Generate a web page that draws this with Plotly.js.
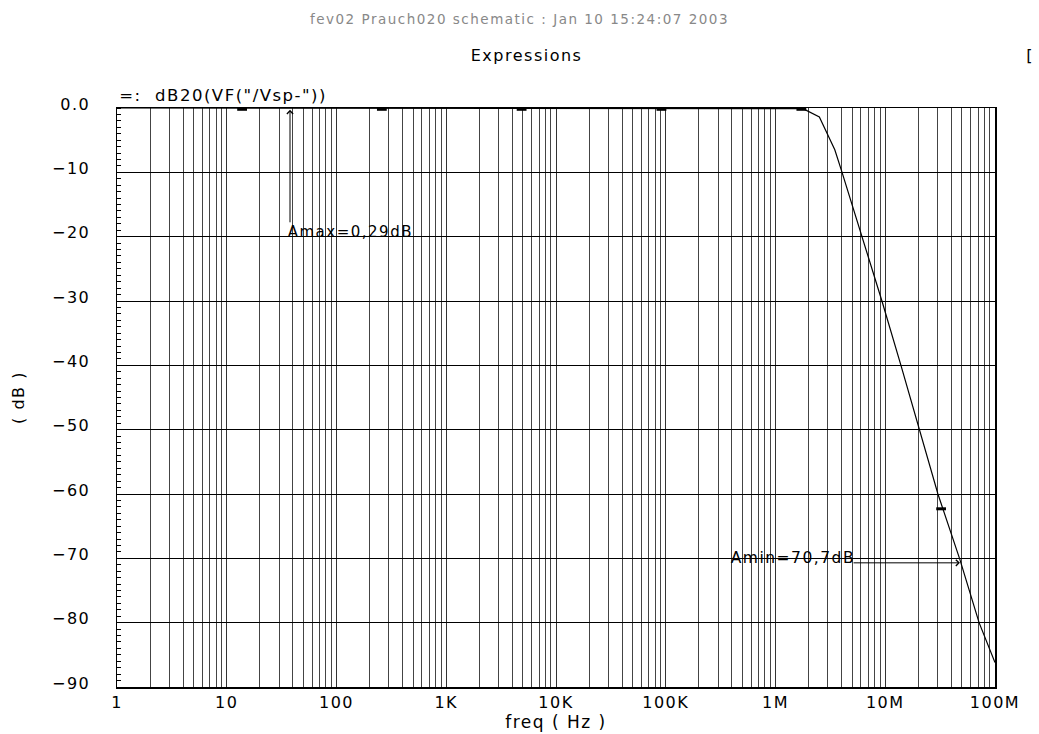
<!DOCTYPE html>
<html>
<head>
<meta charset="utf-8">
<script src="https://cdn.plot.ly/plotly-3.0.1.min.js"></script>
<style>
html,body{margin:0;padding:0;background:#fff;}
#chart{width:1039px;height:734px;}
#chart svg text{letter-spacing:1.5px;}
</style>
</head>
<body>
<div id="chart"></div>
<script>
// Frequency response (Hz, dB)
const freq = [1, 10, 100, 1e3, 1e4, 1e5, 1e6, 1.78e6, 2.51e6, 3.47e6, 4.04e6, 6.14e6, 9.33e6, 1.39e7, 2.04e7, 3.02e7, 4.79e7, 7.16e7, 1e8];
const dB   = [0, 0, 0, 0, 0, 0, -0.02, -0.1, -1.4, -6.5, -10, -20, -30, -40, -50, -60, -70.2, -80, -86.2];
// Marker points drawn along the trace
const markFreq = [13.8, 259, 4.86e3, 9.14e4, 1.72e6, 3.23e7];
const markDB   = [-0.2, -0.2, -0.2, -0.2, -0.2, -62.3];
// Axis ticks
const xTickVals = [1, 10, 100, 1e3, 1e4, 1e5, 1e6, 1e7, 1e8];
const xTickText = ["1", "10", "100", "1K", "10K", "100K", "1M", "10M", "100M"];
const yTickVals = [0, -10, -20, -30, -40, -50, -60, -70, -80, -90];
const yTickText = ["0.0", "\u221210", "\u221220", "\u221230", "\u221240", "\u221250", "\u221260", "\u221270", "\u221280", "\u221290"];
// Annotation values
const amaxFreq = 37.7, amaxDB = -0.29, amaxTailDB = -18;
const aminFreqTail = 4.98e6, aminFreqHead = 4.79e7, aminDB = -70.7;

const minorX = [];
for (let d = 0; d < 8; d++) for (let k = 2; k <= 9; k++) minorX.push(k * Math.pow(10, d));

const FONT = "DejaVu Sans, sans-serif";
const traces = [
  {x: freq, y: dB, type: "scatter", mode: "lines", line: {color: "#000", width: 1.2}, hoverinfo: "skip", showlegend: false},
  {x: markFreq, y: markDB, type: "scatter", mode: "markers",
   marker: {symbol: "line-ew", size: 7, color: "#000", line: {color: "#000", width: 3}}, hoverinfo: "skip", showlegend: false}
];
const lg = Math.log10;
const layout = {
  width: 1039, height: 734,
  margin: {l: 117, r: 44, t: 108, b: 47},
  paper_bgcolor: "#fff", plot_bgcolor: "#fff",
  font: {family: FONT, size: 15, color: "#000"},
  title: {text: "fev02 Prauch020 schematic : Jan 10 15:24:07 2003", x: 0.5, xref: "container", xanchor: "center",
          y: 0.974, yref: "container", yanchor: "middle", font: {family: FONT, size: 13.5, color: "#888"}},
  xaxis: {type: "log", range: [0, 8], tickmode: "array", tickvals: xTickVals, ticktext: xTickText,
          showgrid: true, gridcolor: "#333", gridwidth: 1, zeroline: false,
          showline: true, linecolor: "#000", linewidth: 1.5, mirror: true, ticks: "",
          tickfont: {family: FONT, size: 16, color: "#000"},
          minor: {tickmode: "array", tickvals: minorX, showgrid: true, gridcolor: "#444", gridwidth: 1, ticks: ""},
          title: {text: "freq ( Hz )", standoff: 2, font: {family: FONT, size: 17, color: "#000"}}},
  yaxis: {range: [-90, 0], tickmode: "array", tickvals: yTickVals, ticktext: yTickText,
          showgrid: true, gridcolor: "#000", gridwidth: 1, zeroline: false,
          showline: true, linecolor: "#000", linewidth: 1.5, mirror: true, ticks: "", ticklabelstandoff: 22, ticklabelshift: -4,
          tickfont: {family: FONT, size: 16, color: "#000"},
          minor: {dtick: 1, ticks: "inside", ticklen: 4, tickcolor: "#000", tickwidth: 1, showgrid: false},
          title: {text: "( dB )", standoff: 28, font: {family: FONT, size: 16, color: "#000"}}},
  annotations: [
    {xref: "paper", yref: "paper", x: 0.466, y: 1.0915, text: "Expressions", showarrow: false,
     font: {family: FONT, size: 16, color: "#000"}, xanchor: "center", yanchor: "middle"},
    {xref: "paper", yref: "paper", x: 1.040, y: 1.0915, text: "[", showarrow: false,
     font: {family: FONT, size: 16, color: "#000"}, xanchor: "center", yanchor: "middle"},
    {xref: "paper", yref: "paper", x: 0.018, y: 1.021, text: "=:  dB20(VF(\"/Vsp-\"))", showarrow: false,
     font: {family: FONT, size: 16.5, color: "#000"}, xanchor: "left", yanchor: "middle"},
    {xref: "x", yref: "y", x: lg(amaxFreq), y: -19.3, text: "Amax=0,29dB", showarrow: false,
     font: {family: FONT, size: 15, color: "#000"}, xanchor: "left", yanchor: "middle", xshift: 4},
    {xref: "x", yref: "y", x: lg(amaxFreq), y: amaxDB, axref: "x", ayref: "y", ax: lg(amaxFreq), ay: amaxTailDB,
     text: "", showarrow: true, arrowhead: 4, arrowsize: 1.2, arrowwidth: 1, arrowcolor: "#000", standoff: 0},
    {xref: "x", yref: "y", x: lg(aminFreqTail), y: aminDB, text: "Amin=70,7dB", showarrow: false,
     font: {family: FONT, size: 15.5, color: "#000"}, xanchor: "right", yanchor: "bottom", yshift: -6, xshift: -3},
    {xref: "x", yref: "y", x: lg(aminFreqHead), y: aminDB, axref: "x", ayref: "y", ax: lg(aminFreqTail), ay: aminDB,
     text: "", showarrow: true, arrowhead: 4, arrowsize: 1.2, arrowwidth: 1, arrowcolor: "#000", standoff: 0}
  ]
};
Plotly.newPlot("chart", traces, layout, {displayModeBar: false, staticPlot: true});
</script>
</body>
</html>
